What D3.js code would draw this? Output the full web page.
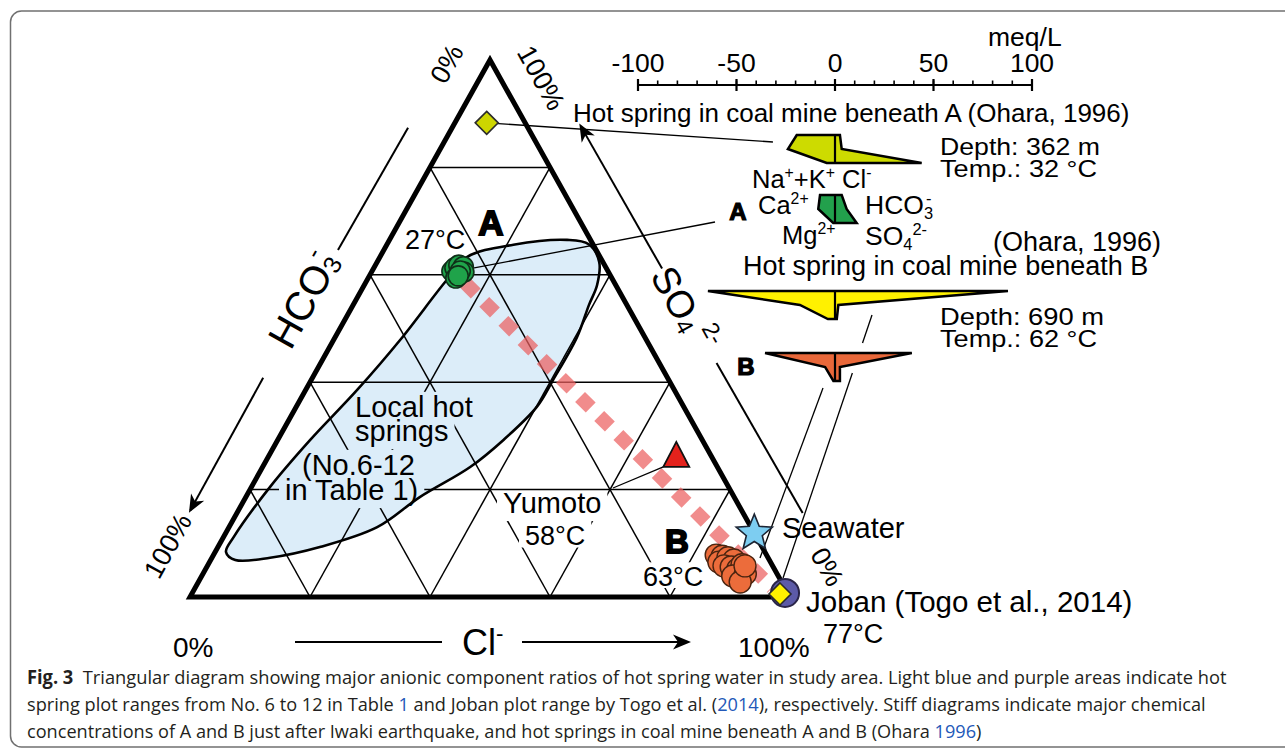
<!DOCTYPE html>
<html>
<head>
<meta charset="utf-8">
<script src="https://cdn.jsdelivr.net/npm/d3@7/dist/d3.min.js"></script>
<style>
  html, body { margin: 0; padding: 0; background: #fff; }
  svg { display: block; }
  text { font-family: "Liberation Sans", Arial, Helvetica, sans-serif; }
  .cap { font-family: "Liberation Sans Narrow", "Open Sans", sans-serif; white-space: pre; }
</style>
</head>
<body>
<svg id="fig" width="1285" height="751"></svg>
<script>
// ---------- anion composition, % of meq: [SO4, Cl]  (HCO3 = 100 - SO4 - Cl) ----------
const springA = [[60.7, 13.3], [61.3, 13.5], [61.8, 13.9], [61.5, 14.8], [60.5, 15.4], [59.4, 14.6], [60.7, 14.7], [59.8, 14.8]];
const springB = [[7.8, 83.8], [7.6, 84.9], [6.5, 84.9], [7.3, 86.0], [6.9, 87.2], [5.8, 86.1], [5.6, 87.4], [5.2, 88.7],
                 [6.0, 89.0], [3.9, 88.5], [4.3, 90.4], [2.8, 90.3], [5.8, 89.6]];
const coalMineA = [88.3, 5.3];
const coalMineB = [0.56, 98.05];
const yumoto = [26.1, 68.0];
const seawater = [11.9, 88.1];
const joban = [0.75, 98.8];
const trend = [[58.5, 16.6], [1.7, 96.2]];
// outline of the local hot spring range (No.6-12)
const localRange = [[58.7, 13.2], [63.3, 14.5], [65.6, 21.1], [66.5, 29.6], [65.7, 33.6], [62.4, 37.0], [58.1, 38.8],
                    [54.4, 39.3], [48.4, 40.3], [40.4, 40.3], [35.4, 40.1], [29.2, 37.6], [24.2, 34.6], [18.6, 29.0],
                    [13.0, 24.7], [9.3, 17.0], [7.3, 9.7], [6.9, 4.1], [8.4, 1.8], [11.2, 1.7], [20.5, 3.1],
                    [29.2, 5.4], [38.6, 8.6], [47.9, 11.1]];
const gridLevels = [20, 40, 60, 80];

// ---------- Stiff diagrams, meq/L: [Na+K, Ca, Mg, Cl, HCO3, SO4] ----------
const stiffCoalA = [19.4, 23.9, 4.2, 2.5, 3.4, 44.0];
const stiffA = [7.6, 8.5, 0.9, 3.4, 5.9, 11.0];
const stiffCoalB = [64.5, 17.8, 3.6, 87.8, 1.7, 0.9];
const stiffB = [35.5, 5.0, 0.8, 39.0, 2.5, 2.5];
const meqMajor = [-100, -50, 0, 50, 100];
const meqMinor = d3.range(-100, 101, 10);

// ---------- caption ----------
const captionLines = [
  [["Fig. 3", "b"], ["  Triangular diagram showing major anionic component ratios of hot spring water in study area. Light blue and purple areas indicate hot"]],
  [["spring plot ranges from No. 6 to 12 in Table "], ["1", "link"], [" and Joban plot range by Togo et al. ("], ["2014", "link"], ["), respectively. Stiff diagrams indicate major chemical"]],
  [["concentrations of A and B just after Iwaki earthquake, and hot springs in coal mine beneath A and B (Ohara "], ["1996", "link"], [")"]]
];

const svg = d3.select("#fig");

// ternary scales: horizontal from Cl + SO4/2, vertical from SO4
const X = d3.scaleLinear().domain([0, 100]).range([190, 790]);
const Y = d3.scaleLinear().domain([0, 100]).range([597, 60]);
const tern = d => [X(d[1] + d[0] / 2), Y(d[0])];
const L = tern([0, 0]), R = tern([0, 100]), T = tern([100, 0]);

const frame = (a, b) => {
  const len = Math.hypot(b[0] - a[0], b[1] - a[1]);
  const u = [(b[0] - a[0]) / len, (b[1] - a[1]) / len];
  const n = [u[1], -u[0]];
  return (t, d) => [a[0] + t * u[0] + d * n[0], a[1] + t * u[1] + d * n[1]];
};
const leftAt = frame(L, T), rightAt = frame(T, R);
const angL = Math.atan2(T[1] - L[1], T[0] - L[0]) * 180 / Math.PI;
const angR = Math.atan2(R[1] - T[1], R[0] - T[0]) * 180 / Math.PI;

function rich(sel, parts, size) {
  let shift = 0;
  parts.forEach(([s, kind, dx]) => {
    const target = kind === "sup" ? -0.38 * size : kind === "sub" ? 0.2 * size : 0;
    const ts = sel.append("tspan").text(s).attr("dy", target - shift);
    if (kind) ts.attr("font-size", size * 0.62);
    if (dx) ts.attr("dx", dx);
    shift = target;
  });
  return sel;
}
const line = (g, a, b, w) => g.append("line").attr("x1", a[0]).attr("y1", a[1]).attr("x2", b[0]).attr("y2", b[1])
  .attr("stroke", "#000").attr("stroke-width", w || 1.3);

const rangePath = d3.line().curve(d3.curveCatmullRomClosed.alpha(0.5))(localRange.map(tern));

const defs = svg.append("defs");
// arrowhead
defs.append("marker").attr("id", "arrow")
  .attr("viewBox", "-20 -10 24 20").attr("refX", 0).attr("refY", 0)
  .attr("markerWidth", 24).attr("markerHeight", 20).attr("markerUnits", "userSpaceOnUse").attr("orient", "auto")
  .append("path").attr("d", "M3,0 L-15,-7.5 L-10,0 L-15,7.5 Z").attr("fill", "#000");
defs.append("clipPath").attr("id", "rangeClip").append("path").attr("d", rangePath);

// panel border
svg.append("rect").attr("x", 10.5).attr("y", 11).attr("width", 1320).attr("height", 736).attr("rx", 11)
  .attr("fill", "none").attr("stroke", "#707070").attr("stroke-width", 1.5);

// ---------- ternary ----------
const blue = "#dcedf9";
svg.append("path").attr("d", rangePath).attr("fill", blue);

const gridSegs = [];
gridLevels.forEach(k => {
  gridSegs.push([[k, 0], [k, 100 - k]]);        // SO4 = k
  gridSegs.push([[0, k], [100 - k, k]]);        // Cl = k
  gridSegs.push([[0, 100 - k], [100 - k, 0]]);  // HCO3 = k
});
svg.append("g").selectAll("line").data(gridSegs).join("line")
  .attr("x1", d => tern(d[0])[0]).attr("y1", d => tern(d[0])[1])
  .attr("x2", d => tern(d[1])[0]).attr("y2", d => tern(d[1])[1])
  .attr("stroke", "#000").attr("stroke-width", 1.5);

// labels that sit on the grid: each one masks the grid with a background block
const gridLabels = [
  { t: "Local hot", x: 355, y: 417, bg: blue, desc: 0.05 },
  { t: "springs", x: 355, y: 441, bg: blue, desc: 0.21 },
  { t: "(No.6-12", x: 302, y: 475, bg: blue, desc: 0.21 },
  { t: "in Table 1)", x: 285, y: 500, bg: blue, desc: 0.21 },
  { t: "Yumoto", x: 503, y: 513, bg: "#fff", desc: 0.21, top: 0 },
  { t: "58°C", x: 525, y: 545, bg: "#fff", s: 27, desc: 0.02 },
  { t: "63°C", x: 643, y: 586, bg: "#fff", s: 27, desc: 0.0 }
];
const gl = svg.append("g");
const glBg = gl.append("g"), glFg = gl.append("g");
gridLabels.forEach(d => {
  const size = d.s || 29;
  const t = glFg.append("text").attr("x", d.x).attr("y", d.y).attr("font-size", size).attr("fill", "#000").text(d.t);
  const bb = t.node().getBBox();
  const padTop = d.top === undefined ? 4 : d.top;
  const y0 = d.y - 0.73 * size - padTop, y1 = d.y + d.desc * size + 2;
  const r = glBg.append("rect").attr("x", bb.x - 6).attr("width", bb.width + 12)
    .attr("y", y0).attr("height", y1 - y0).attr("fill", d.bg);
  if (d.bg === blue) r.attr("clip-path", "url(#rangeClip)");
});

svg.append("path").attr("d", rangePath).attr("fill", "none").attr("stroke", "#000").attr("stroke-width", 2.6);

svg.append("path").attr("d", `M${L}L${R}L${T}Z`).attr("fill", "none").attr("stroke", "#000")
  .attr("stroke-width", 5).attr("stroke-linejoin", "miter").attr("stroke-miterlimit", 10);

// trend between A and B
line(svg, tern(trend[0]), tern(trend[1]), 14).attr("stroke", "rgba(236,96,96,0.72)")
  .attr("stroke-dasharray", "15,12");

// ---------- Stiff diagrams ----------
const S = d3.scaleLinear().domain([-100, 100]).range([638, 1032]);
const rowGap = 14;
const stiffSamples = [
  { v: stiffCoalA, top: 135, fill: "#cddb00" },
  { v: stiffA, top: 195, fill: "#22a04c" },
  { v: stiffCoalB, top: 291, fill: "#fff100" },
  { v: stiffB, top: 353, fill: "#e9683a" }
];

// leader lines
const leaders = svg.append("g");
line(leaders, tern(coalMineA), [S(-stiffCoalA[1]) - 15, 135 + 7]);
line(leaders, tern([d3.mean(springA, d => d[0]), d3.mean(springA, d => d[1])]), [715, 222]);
{
  const a = [872, 315], jb = tern(joban), b = [jb[0] - 2, jb[1] - 15];
  const ip = d3.interpolate(a, b), ty = y => (y - a[1]) / (b[1] - a[1]);
  line(leaders, a, ip(ty(343)));
  line(leaders, ip(ty(373)), b);
}
line(leaders, [823, 388], [760, 558]);
{
  const y = tern(yumoto);
  line(leaders, [y[0] - 13, y[1] + 10], [613, 488]);
}

// side axes
line(svg, leftAt(516, 38.5), leftAt(375, 40), 2);
line(svg, leftAt(227, 43), leftAt(76, 42), 2).attr("marker-end", "url(#arrow)");
line(svg, rightAt(266, 48.5), rightAt(102, 47), 2).attr("marker-end", "url(#arrow)");
line(svg, rightAt(375, 50), rightAt(548, 52), 2);
line(svg, [295, 642], [442, 642], 2);
line(svg, [522, 642], [688, 642], 2).attr("marker-end", "url(#arrow)");

// ---------- points ----------
const pts = svg.append("g");
pts.selectAll("circle.a").data(springA).join("circle").attr("class", "a")
  .attr("cx", d => tern(d)[0]).attr("cy", d => tern(d)[1]).attr("r", 10)
  .attr("fill", "#1fa34a").attr("stroke", "#0f2f18").attr("stroke-width", 1.6);
pts.selectAll("circle.b").data(springB).join("circle").attr("class", "b")
  .attr("cx", d => tern(d)[0]).attr("cy", d => tern(d)[1]).attr("r", 11)
  .attr("fill", "#ec6c3b").attr("stroke", "#4a2410").attr("stroke-width", 1.4);
{
  const [x, y] = tern(yumoto);
  pts.append("path").attr("d", `M${x},${y - 15}L${x + 13},${y + 10}L${x - 13},${y + 10}Z`)
    .attr("fill", "#e3221c").attr("stroke", "#111").attr("stroke-width", 1.8);
}
{
  const [x, y] = tern(seawater);
  const star = d3.range(10).map(i => {
    const r = i % 2 ? 8.4 : 19, a = -Math.PI / 2 + i * Math.PI / 5;
    return [x + r * Math.cos(a), y + r * Math.sin(a)];
  });
  pts.append("path").attr("d", "M" + star.join("L") + "Z").attr("fill", "#7dcdf1")
    .attr("stroke", "#1c2433").attr("stroke-width", 1.6).attr("stroke-linejoin", "miter");
}
{
  const [x, y] = tern(joban);
  pts.append("circle").attr("cx", x).attr("cy", y).attr("r", 14)
    .attr("fill", "#5c5aa7").attr("stroke", "#2a2548").attr("stroke-width", 2);
}
const diamond = (p, h, fill) => {
  const [x, y] = tern(p);
  pts.append("path").attr("d", `M${x},${y - h}L${x + h},${y}L${x},${y + h}L${x - h},${y}Z`)
    .attr("fill", fill).attr("stroke", "#2b2b2b").attr("stroke-width", 1.6);
};
diamond(coalMineB, 11, "#fff200");
diamond(coalMineA, 11.5, "#cdd500");

// ---------- ternary texts ----------
const txt = (x, y, s, size, anchor) => svg.append("text").attr("x", x).attr("y", y)
  .attr("font-size", size).attr("text-anchor", anchor || "start").attr("fill", "#000").text(s);
const rot = (p, a, size) => svg.append("text")
  .attr("transform", `translate(${p[0]},${p[1]}) rotate(${a})`)
  .attr("text-anchor", "middle").attr("dominant-baseline", "central").attr("font-size", size).attr("fill", "#000");

rot([447, 64], angL, 27).text("0%");
rot([541, 78], angR, 27).text("100%");
rot([168, 546], angL, 27).text("100%");
rot([827, 567], angR, 27).text("0%");
rich(rot(leftAt(315, 46), angL, 40), [["HCO"], ["3", "sub"], ["-", "sup", -10]], 40);
rich(rot(rightAt(312, 47), angR, 38), [["SO"], ["4", "sub"], ["2-", "sup", 3]], 38);
txt(173, 657, "0%", 28);
txt(738, 657, "100%", 28);
rich(txt(462, 655, "", 36), [["Cl"], ["-", "sup"]], 36);
txt(405, 249, "27°C", 27);
txt(491, 235, "A", 35, "middle").attr("font-weight", "bold").attr("stroke", "#000").attr("stroke-width", 1.8);
txt(677, 553, "B", 33, "middle").attr("font-weight", "bold").attr("stroke", "#000").attr("stroke-width", 1.8);
txt(782, 538, "Seawater", 29);
txt(806, 612, "Joban (Togo et al., 2014)", 29.5);
txt(823, 643, "77°C", 27);

// ---------- stiff diagrams ----------
const st = svg.append("g");
line(st, [S(-100), 85], [S(100), 85], 2);
st.selectAll("line.mn").data(meqMinor).join("line").attr("class", "mn")
  .attr("x1", d => S(d)).attr("x2", d => S(d)).attr("y1", 80.5).attr("y2", 85)
  .attr("stroke", "#000").attr("stroke-width", 1.6);
st.selectAll("line.mj").data(meqMajor).join("line").attr("class", "mj")
  .attr("x1", d => S(d)).attr("x2", d => S(d)).attr("y1", 79).attr("y2", 91)
  .attr("stroke", "#000").attr("stroke-width", 2.2);
st.selectAll("text.tk").data(meqMajor).join("text").attr("class", "tk")
  .attr("x", d => S(d)).attr("y", 72).attr("text-anchor", "middle").attr("font-size", 26.5).text(d => d);
txt(988, 46, "meq/L", 26.5);

stiffSamples.forEach(s => {
  const r0 = s.top, r1 = s.top + rowGap, r2 = s.top + 2 * rowGap, v = s.v;
  const poly = [[S(-v[0]), r0], [S(-v[1]), r1], [S(-v[2]), r2], [S(v[5]), r2], [S(v[4]), r1], [S(v[3]), r0]];
  st.append("path").attr("d", "M" + poly.join("L") + "Z").attr("fill", s.fill)
    .attr("stroke", "#000").attr("stroke-width", 2.5).attr("stroke-linejoin", "miter");
  line(st, [S(0), r0], [S(0), r2], 2.2);
});

const fit = (sel, w) => sel.attr("textLength", w).attr("lengthAdjust", "spacingAndGlyphs");
txt(573, 122, "Hot spring in coal mine beneath A (Ohara, 1996)", 26);
fit(txt(940, 155, "Depth: 362 m", 24.5), 160);
fit(txt(940, 177, "Temp.: 32 °C", 24.5), 157);
rich(txt(752, 188, "", 25.5), [["Na"], ["+", "sup"], ["+K"], ["+", "sup"], [" Cl"], ["-", "sup"]], 25.5);
rich(txt(758, 214, "", 25.5), [["Ca"], ["2+", "sup"]], 25.5);
rich(txt(782, 244, "", 25.5), [["Mg"], ["2+", "sup"]], 25.5);
rich(txt(865, 214, "", 26.5), [["HCO"], ["3", "sub"], ["-", "sup", -7]], 26.5);
rich(txt(865, 245, "", 26.5), [["SO"], ["4", "sub"], ["2-", "sup"]], 26.5);
txt(738, 220, "A", 24, "middle").attr("font-weight", "bold").attr("stroke", "#000").attr("stroke-width", 1.2);
txt(993, 251, "(Ohara, 1996)", 27);
txt(743, 275, "Hot spring in coal mine beneath B", 27);
fit(txt(940, 325, "Depth: 690 m", 24.5), 164);
fit(txt(940, 347, "Temp.: 62 °C", 24.5), 157);
txt(746, 375, "B", 24, "middle").attr("font-weight", "bold").attr("stroke", "#000").attr("stroke-width", 1.2);

// ---------- caption ----------
const capEnds = [1228, 1207, 982], capBase = [684, 711, 738];
captionLines.forEach((parts, i) => {
  const t = svg.append("text").attr("class", "cap").attr("font-size", 19).attr("fill", "#231f20");
  parts.forEach(([s, kind]) => {
    const ts = t.append("tspan").text(s);
    if (kind === "b") ts.attr("font-weight", "bold");
    if (kind === "link") ts.attr("fill", "#2358b8");
  });
  const w = t.node().getBBox().width;
  t.attr("transform", `translate(27,${capBase[i]}) scale(${(capEnds[i] - 27) / w},1)`);
});
</script>
</body>
</html>
